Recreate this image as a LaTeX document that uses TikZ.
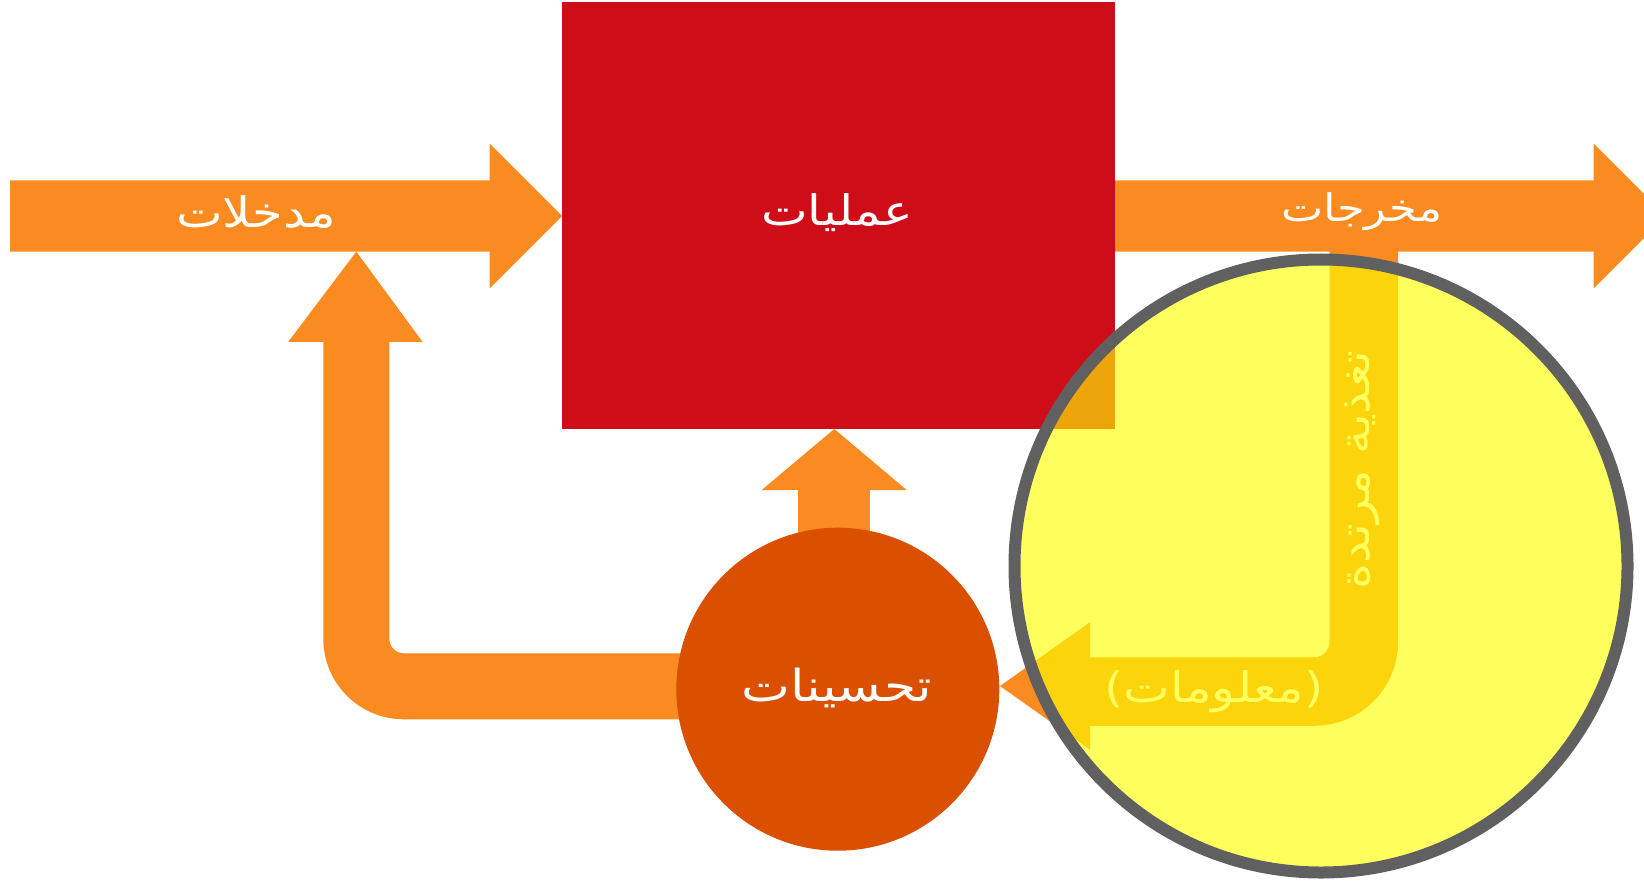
\documentclass[tikz,border=0pt]{standalone}
\usepackage{fontspec}
\TeXXeTstate=1
\newfontfamily\arabicfont[Script=Arabic,FakeStretch=1.18]{DejaVu Sans}
\definecolor{arroworange}{HTML}{F98B20}
\definecolor{procred}{HTML}{CE0D19}
\definecolor{improvecol}{HTML}{DB5000}
\definecolor{ringgray}{HTML}{606060}
\definecolor{lensyellow}{HTML}{FFFF00}
\begin{document}
\begin{tikzpicture}[x=1bp,y=-1bp,
  lbl/.style={text=white, font=\arabicfont\fontsize{42bp}{48bp}\selectfont, inner sep=0pt},
  smalllbl/.style={text=white, font=\arabicfont\fontsize{38bp}{44bp}\selectfont, inner sep=0pt},
  biglbl/.style={text=white, font=\arabicfont\fontsize{44bp}{50bp}\selectfont, inner sep=0pt},
  band/.style={draw=arroworange, line cap=butt},
  head/.style={fill=arroworange}]
\useasboundingbox (0,0) rectangle (1644,880);
\clip (0,0) rectangle (1644,880);

% named points
\coordinate (fbstart) at (1363.8,240);
\coordinate (fbcorner) at (1363.8,691.5);
\coordinate (fbend) at (1090,691.5);
\coordinate (lpstart) at (356.3,335);
\coordinate (lpcorner) at (356.3,686.3);
\coordinate (lpend) at (720,686.3);

% feedback band (output -> improvements)
\draw[band, line width=68.5bp, rounded corners=49.5bp] (fbstart) -- (fbcorner) -- (fbend);
\fill[head] (1090,622.3) -- (1000,686) -- (1090,749.7) -- cycle;

% loop band (improvements -> inputs)
\draw[band, line width=66bp, rounded corners=47.5bp] (lpend) -- (lpcorner) -- (lpstart);
\fill[head] (288.3,341.8) -- (356.3,251.6) -- (422.5,341.8) -- cycle;

% up arrow (improvements -> processes)
\fill[head] (797.7,488) rectangle (870.3,580);
\fill[head] (761.7,490) -- (834.3,429) -- (906.7,490) -- cycle;

% input arrow
\fill[head] (10,180.3) -- (489.6,180.3) -- (489.6,143.6) -- (562,216) -- (489.6,288.4) -- (489.6,251.7) -- (10,251.7) -- cycle;
\node[lbl] (inp) at (256,212) {\beginR مدخلات\endR};

% output arrow
\fill[head] (1114.6,180.3) -- (1593.7,180.3) -- (1593.7,143.6) -- (1666,216) -- (1593.7,288.4) -- (1593.7,251.7) -- (1114.6,251.7) -- cycle;
\node[smalllbl] (outp) at (1362,212) {\beginR مخرجات\endR};

% processes
\node[fill=procred, minimum width=552.6bp, minimum height=426.8bp, inner sep=0pt, anchor=north west] (proc) at (562,2) {};
\node[lbl] (proclbl) at (837,213) {\beginR عمليات\endR};

% improvements
\node[circle, fill=improvecol, minimum size=323bp, inner sep=0pt] (imp) at (837.8,689.2) {};
\node[biglbl] (implbl) at (837,688) {\beginR تحسينات\endR};

% feedback labels
\node[lbl] (info) at (1214,691.5) {\beginR(معلومات)\endR};
\node[lbl, rotate=90] (fblbl) at (1362,470) {\beginR تغذية مرتدة\endR};

% lens
\node[circle, draw=ringgray, line width=12bp, fill=lensyellow, fill opacity=0.63, draw opacity=1, minimum size=613bp, inner sep=0pt] (lens) at (1321,566) {};
\end{tikzpicture}
\end{document}
